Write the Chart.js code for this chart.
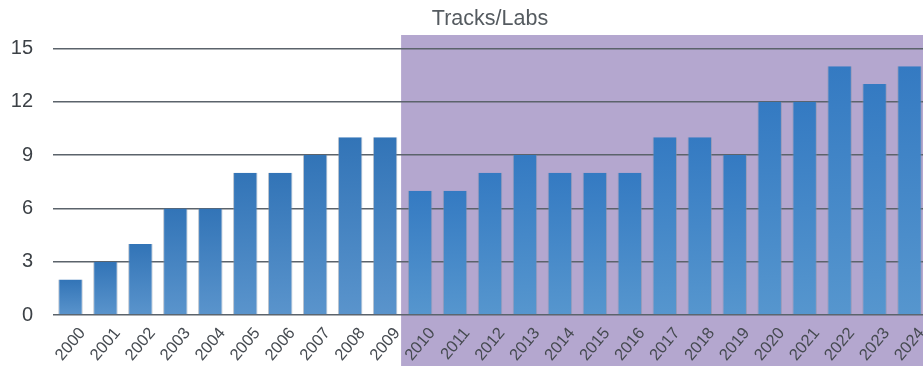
<!DOCTYPE html>
<html>
<head>
<meta charset="utf-8">
<script src="https://cdn.jsdelivr.net/npm/chart.js@4"></script>
<style>
html,body{margin:0;padding:0;background:#fff;overflow:hidden;width:923px;height:366px;}
canvas{display:block;}
</style>
</head>
<body>
<canvas id="c" width="927" height="366"></canvas>
<script>
const years = ["2000","2001","2002","2003","2004","2005","2006","2007","2008","2009","2010","2011","2012","2013","2014","2015","2016","2017","2018","2019","2020","2021","2022","2023","2024"];
const tracksLabs = [2,3,4,6,6,8,8,9,10,10,7,7,8,9,8,8,8,10,10,9,12,12,14,13,14];
const yTicks = [0,3,6,9,12,15];
const shadeFromIndex = 10;
const titleText = 'Tracks/Labs';

const shadePlugin = {
  id: 'shade',
  beforeDraw(chart) {
    const x = chart.scales.x, ctx = chart.ctx, ca = chart.chartArea;
    const left = (x.getPixelForTick(shadeFromIndex - 1) + x.getPixelForTick(shadeFromIndex)) / 2 - 1.5;
    const top = ca.top - 13.5;
    ctx.save();
    ctx.fillStyle = 'rgb(180,167,207)';
    ctx.fillRect(left, top, chart.width - left, chart.height - top);
    ctx.restore();
  },
  afterDraw(chart) {
    const ctx = chart.ctx, ca = chart.chartArea;
    ctx.save();
    ctx.fillStyle = '#555b60';
    ctx.font = '21.5px "Liberation Sans"';
    ctx.textAlign = 'center';
    ctx.textBaseline = 'alphabetic';
    ctx.fillText(titleText, (ca.left + ca.right) / 2, 25);
    ctx.restore();
  }
};

function barFill(c) {
  const chart = c.chart;
  if (!chart.chartArea || c.raw === undefined) return '#3f80c0';
  const y = chart.scales.y;
  const top = y.getPixelForValue(c.raw), bot = y.getPixelForValue(0);
  const g = chart.ctx.createLinearGradient(0, top, 0, bot);
  if (c.dataIndex >= shadeFromIndex) {
    g.addColorStop(0, 'rgb(52,122,194)');
    g.addColorStop(1, 'rgb(86,150,206)');
  } else {
    g.addColorStop(0, 'rgb(50,116,183)');
    g.addColorStop(1, 'rgb(90,148,204)');
  }
  return g;
}

new Chart(document.getElementById('c'), {
  type: 'bar',
  data: {
    labels: years,
    datasets: [{
      label: titleText,
      data: tracksLabs,
      backgroundColor: barFill,
      borderColor: 'rgba(130,145,165,0.55)',
      borderWidth: {left: 1, right: 1, top: 0, bottom: 0},
      borderSkipped: false,
      barPercentage: 0.70,
      categoryPercentage: 1.0
    }]
  },
  options: {
    responsive: false,
    animation: false,
    layout: {padding: {left: 0, right: 0, top: 48.5, bottom: 0}},
    plugins: {
      legend: {display: false},
      tooltip: {enabled: false},
      title: {display: false}
    },
    scales: {
      x: {
        grid: {display: false},
        border: {display: false},
        ticks: {
          color: '#454a50',
          font: {family: 'Liberation Sans', size: 16.5},
          minRotation: 50, maxRotation: 50,
          padding: 1,
          labelOffset: 12,
          autoSkip: false
        },
        afterFit(s) { s.height = 51; }
      },
      y: {
        min: 0, max: 15,
        afterBuildTicks(s) { s.ticks = yTicks.map(v => ({value: v})); },
        grid: {color: '#5b636b', lineWidth: 1.5, drawTicks: false},
        border: {display: false},
        ticks: {
          color: '#3c4146',
          font: {family: 'Liberation Sans', size: 20},
          padding: 20
        },
        afterFit(s) { s.width = 53; }
      }
    }
  },
  plugins: [shadePlugin]
});
</script>
</body>
</html>
